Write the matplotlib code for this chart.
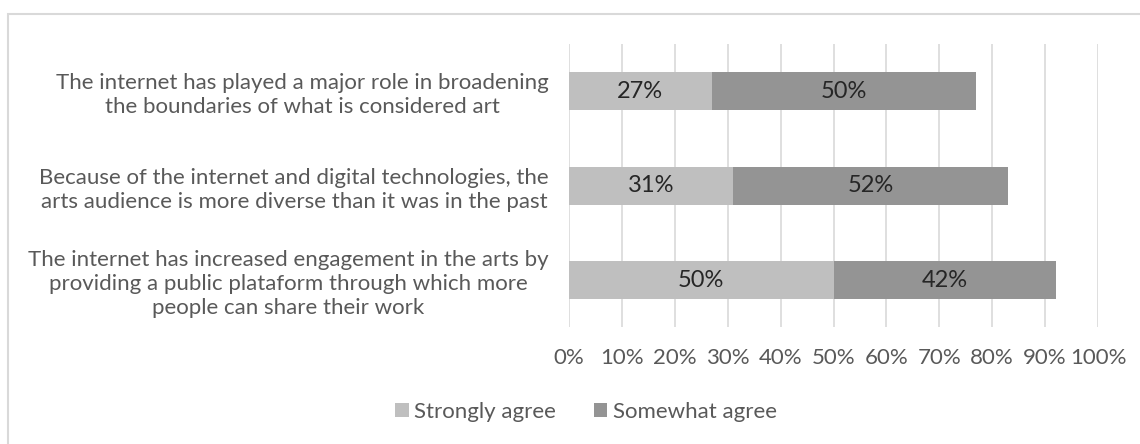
import matplotlib.pyplot as plt
from matplotlib.patches import Rectangle
from matplotlib.ticker import FuncFormatter

plt.rcParams['font.family'] = ['Lato', 'DejaVu Sans']

statements = [
    'The internet has played a major role in broadening\nthe boundaries of what is considered art',
    'Because of the internet and digital technologies, the\narts audience is more diverse than it was in the past',
    'The internet has increased engagement in the arts by\nproviding a public plataform through which more\npeople can share their work',
]
strongly_agree = [27, 31, 50]
somewhat_agree = [50, 52, 42]
series_names = ['Strongly agree', 'Somewhat agree']
colors = ['#bfbfbf', '#949494']
x_ticks = list(range(0, 101, 10))

W, H = 1140, 444
fig = plt.figure(figsize=(W / 100, H / 100), dpi=100)

# light chart-area frame, open to the right and bottom
fig.add_artist(Rectangle((8 / W, -0.2), 1.2, 0.2 + (H - 14.5) / H,
                         transform=fig.transFigure, fill=False,
                         edgecolor='#d9d9d9', linewidth=1.5))

ax = fig.add_axes([569 / W, (H - 327.3) / H, (1098 - 569) / W, 283.3 / H])

pos = list(range(len(statements)))
b1 = ax.barh(pos, strongly_agree, height=0.4, color=colors[0], label=series_names[0], zorder=2)
b2 = ax.barh(pos, somewhat_agree, height=0.4, left=strongly_agree, color=colors[1],
             label=series_names[1], zorder=2)
for bars in (b1, b2):
    ax.bar_label(bars, labels=[f'{int(w.get_width())}%' for w in bars], label_type='center',
                 fontsize=17, color='#262626')

ax.set_xlim(0, 100)
ax.set_ylim(2.5, -0.5)
ax.set_xticks(x_ticks)
ax.xaxis.set_major_formatter(FuncFormatter(lambda v, _: f'{v:.0f}%'))
ax.set_yticks(pos)
ax.set_yticklabels(statements, multialignment='center', linespacing=1.25)
ax.tick_params(axis='both', length=0, labelsize=16, labelcolor='#595959')
ax.tick_params(axis='y', pad=14.5)
ax.tick_params(axis='x', pad=15)
ax.grid(axis='x', color='#d9d9d9', linewidth=1.2, zorder=0)
for s in ax.spines.values():
    s.set_visible(False)

leg = fig.legend(loc='center', bbox_to_anchor=(586 / W, (H - 411.5) / H), ncol=2,
                 frameon=False, fontsize=16, handlelength=0.6, handleheight=0.6,
                 handletextpad=0.25, columnspacing=1.7)
for t in leg.get_texts():
    t.set_color('#595959')

fig.savefig('out.png', dpi=100)
